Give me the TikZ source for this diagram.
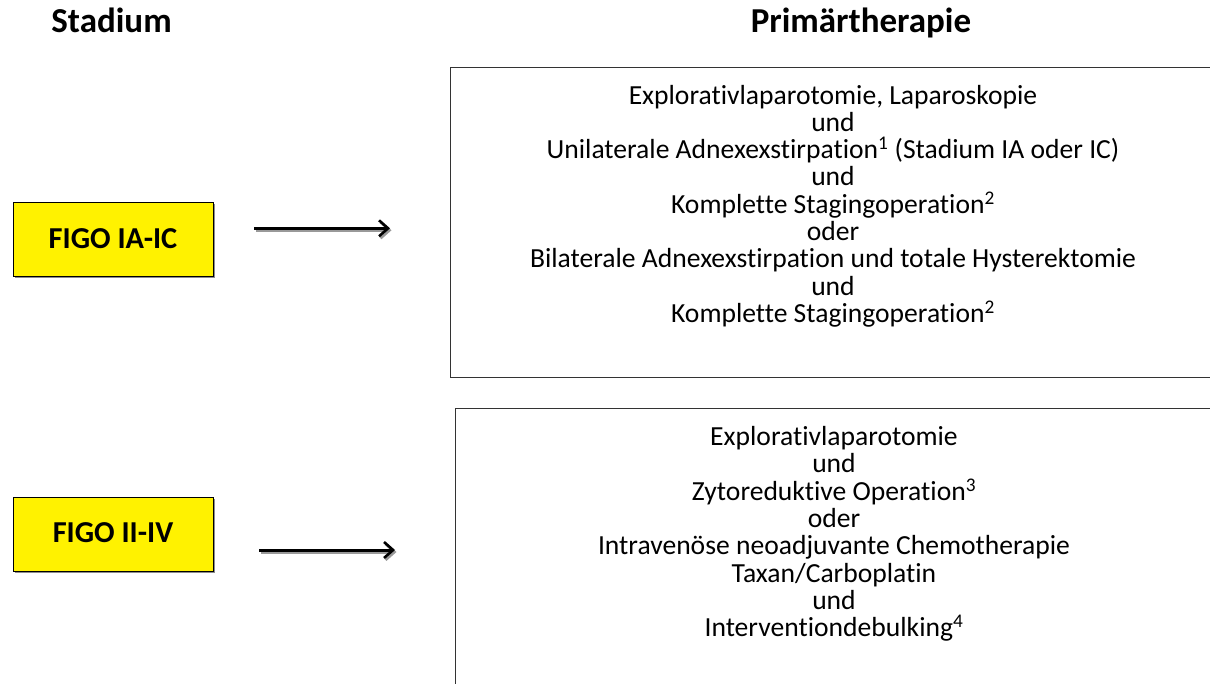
\documentclass[tikz,border=0pt]{standalone}
\usepackage{fontspec}
\setmainfont{Carlito}[Ligatures=CommonOff]
\usetikzlibrary{arrows.meta,shadows}

\begin{document}
\begin{tikzpicture}
[x=1pt,y=-1pt,line join=miter,
 stage/.style={draw=black,line width=1pt,fill=yellow,minimum width=200,minimum height=74,
   inner sep=0pt,font=\fontsize{30.4}{32}\selectfont\bfseries,
   drop shadow={shadow xshift=1.5pt,shadow yshift=-1.5pt,fill=black!45,opacity=1}},
 head/.style={anchor=base,font=\fontsize{35}{37}\selectfont\bfseries},
 therapy/.style={align=center,inner sep=0pt,font=\fontsize{27.6}{27.3}\selectfont},
 pfeil/.style={line width=3pt,-{Straight Barb[length=9pt,width=16pt,line width=2.6pt]}},
 pfeilschatten/.style={pfeil,draw=black!40}]

\useasboundingbox (0,0) rectangle (1210,684);
\clip (0,0) rectangle (1210,684);

% titles
\node[head] (stadium) at (111.5,33) {Stadium};
\node[head] (primaer) at (861,33) {Primärtherapie};

% stages
\node[stage] (figoA) at (113,240) {\raisebox{3pt}{FIGO IA-IC}};
\node[stage] (figoB) at (113,534) {\raisebox{3pt}{FIGO II-IV}};

% therapy boxes
\draw[line width=1pt,black!80] (450.7,67.7) rectangle (1216,378);
\draw[line width=1pt,black!80] (455.7,408) rectangle (1216,700);

\node[therapy] (thA) at (833,206) {Explorativlaparotomie, Laparoskopie\\und\\
  Unilaterale Adnexexstirpation\textsuperscript{1} (Stadium IA oder IC)\\und\\
  Komplette Stagingoperation\textsuperscript{2}\\oder\\
  Bilaterale Adnexexstirpation und totale Hysterektomie\\und\\
  Komplette Stagingoperation\textsuperscript{2}};
\node[therapy] (thB) at (834,534) {Explorativlaparotomie\\und\\
  Zytoreduktive Operation\textsuperscript{3}\\oder\\
  Intravenöse neoadjuvante Chemotherapie\\Taxan/Carboplatin\\und\\
  Interventiondebulking\textsuperscript{4}};

% arrows
\coordinate (a1) at (254,228.3);
\coordinate (a2) at (390,228.3);
\coordinate (b1) at (259,550);
\coordinate (b2) at (395,550);
\draw[pfeilschatten] ([shift={(1.5,2)}]a1) -- ([shift={(1.5,2)}]a2);
\draw[pfeil] (a1) -- (a2);
\draw[pfeilschatten] ([shift={(1.5,2)}]b1) -- ([shift={(1.5,2)}]b2);
\draw[pfeil] (b1) -- (b2);

\end{tikzpicture}
\end{document}
